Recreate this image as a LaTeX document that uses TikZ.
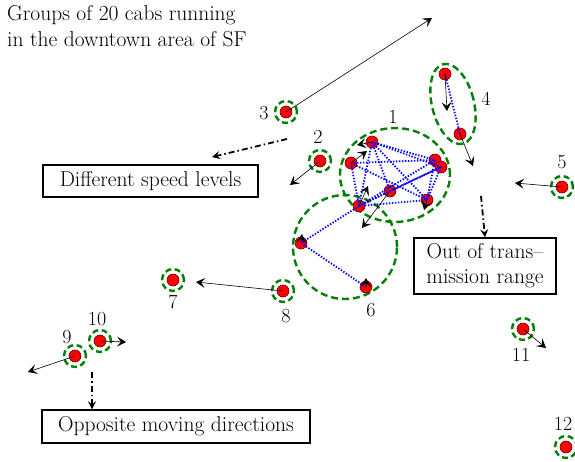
\documentclass[tikz,border=0pt]{standalone}
\usetikzlibrary{arrows.meta,shapes.geometric}
\definecolor{ringgreen}{RGB}{0,128,0}
\begin{document}
\begin{tikzpicture}[x=1pt,y=-1pt,
  cab/.style={circle,fill=red,draw=red!40!black,line width=0.6pt,inner sep=0pt,minimum size=12pt},
  ring/.style={draw=ringgreen,line width=2.4pt,dash pattern=on 7pt off 4pt,inner sep=0pt},
  sring/.style={ring,circle,minimum size=22pt,dash pattern=on 6pt off 3.5pt},
  mv/.style={-{Stealth[length=9pt,width=10pt,inset=4pt]},line width=0.6pt,black},
  link/.style={blue,line width=1.8pt,dash pattern=on 1.4pt off 1.6pt},
  note/.style={-{Stealth[length=8pt,width=8pt,inset=3pt]},line width=1.8pt,dash pattern=on 6pt off 3pt on 1.5pt off 3pt},
  lbl/.style={font=\fontsize{20}{24}\selectfont,inner sep=0pt},
  tbox/.style={draw,line width=1.5pt,font=\fontsize{21.5}{25}\selectfont,align=center,inner sep=0pt}
]
\useasboundingbox (0,0) rectangle (575,461);

% title
\node[lbl,anchor=north west,align=left,font=\fontsize{21.5}{26}\selectfont] (title) at (7,5)
  {Groups of 20 cabs running\\in the downtown area of SF};

% rings (drawn first)
\node[ring,ellipse,minimum width=110pt,minimum height=94pt] (r1) at (395,175) {};
\node[ring,circle,minimum size=104pt] (r6) at (345,247) {};
\node[ring,ellipse,minimum width=42pt,minimum height=82pt,rotate=14] (r4) at (453,104) {};
\node[sring] (r2) at (320,161) {};
\node[sring] (r3) at (286,112) {};
\node[sring] (r5) at (562,187) {};
\node[sring] (r7) at (173,280) {};
\node[sring] (r8) at (283,291) {};
\node[sring] (r9) at (75,356) {};
\node[sring] (r10) at (100,341) {};
\node[sring] (r11) at (523,329) {};
\node[sring] (r12) at (566,447) {};

% cabs
\node[cab] (a) at (372,142) {};
\node[cab] (b) at (351,163) {};
\node[cab] (c) at (435,160) {};
\node[cab] (d) at (441,167) {};
\node[cab] (e) at (390,191) {};
\node[cab] (f) at (359,206) {};
\node[cab] (g) at (427,200) {};
\node[cab] (p) at (301,243) {};
\node[cab] (s6) at (366,287) {};
\node[cab] (s4a) at (445,74) {};
\node[cab] (s4b) at (460,134) {};
\node[cab] (s2) at (320,161) {};
\node[cab] (s3) at (286,112) {};
\node[cab] (s5) at (562,187) {};
\node[cab] (s7) at (173,280) {};
\node[cab] (s8) at (283,291) {};
\node[cab] (s9) at (75,356) {};
\node[cab] (s10) at (100,341) {};
\node[cab] (s11) at (523,329) {};
\node[cab] (s12) at (566,447) {};

% links
\foreach \u/\v in {a/c,a/d,a/g,a/f,a/e,b/c,b/f,b/g,f/c,f/d,f/g,f/e,e/d,c/g,d/g,f/p,p/s6,s4a/s4b}
  \draw[link] (\u.center) -- (\v.center);

% movement arrows
\coordinate (m3) at (432,18);
\coordinate (m4a) at (447,111);
\coordinate (m4b) at (473,166);
\coordinate (m5) at (515,183);
\coordinate (m2) at (290,185);
\coordinate (m8) at (196,282);
\coordinate (m9) at (28,372);
\coordinate (m10) at (126,342);
\coordinate (m11) at (546,348);
\coordinate (ma) at (357,145);
\coordinate (mb) at (367,151);
\coordinate (mf) at (368,186);
\coordinate (me) at (362,228);
\coordinate (mg) at (424,210);
\coordinate (mp) at (302,234);
\coordinate (m6) at (366,278);
\foreach \u/\v in {s3/m3,s4a/m4a,s4b/m4b,s5/m5,s2/m2,s8/m8,s9/m9,s10/m10,s11/m11,a/ma,b/mb,f/mf,e/me,g/mg,p/mp,s6/m6}
  \draw[mv] (\u.center) -- (\v);

% labels
\node[lbl] (l1) at (393,117) {1};
\node[lbl] (l2) at (318,137) {2};
\node[lbl] (l3) at (264,113) {3};
\node[lbl] (l4) at (486,99) {4};
\node[lbl] (l5) at (562,162) {5};
\node[lbl] (l6) at (371,310) {6};
\node[lbl] (l7) at (173,302) {7};
\node[lbl] (l8) at (286,316) {8};
\node[lbl] (l9) at (67,337) {9};
\node[lbl] (l10) at (97,319) {10};
\node[lbl] (l11) at (521,355) {11};
\node[lbl] (l12) at (563,424) {12};

% boxes
\node[tbox,minimum width=215pt,minimum height=32pt] (bspeed) at (150.5,181) {Different speed levels};
\node[tbox,minimum width=142pt,minimum height=56pt] (brange) at (485,266) {Out of trans--\\mission range};
\node[tbox,minimum width=268pt,minimum height=33pt] (bdir) at (176,426.5) {Opposite moving directions};

% note arrows
\coordinate (n1) at (287,139);
\coordinate (n2) at (481,196);
\coordinate (n3) at (92,372);
\draw[note] (n1) -- (212,157);
\draw[note] (n2) -- (brange.north);
\draw[note] (n3) -- (bdir.north -| n3);
\end{tikzpicture}
\end{document}
